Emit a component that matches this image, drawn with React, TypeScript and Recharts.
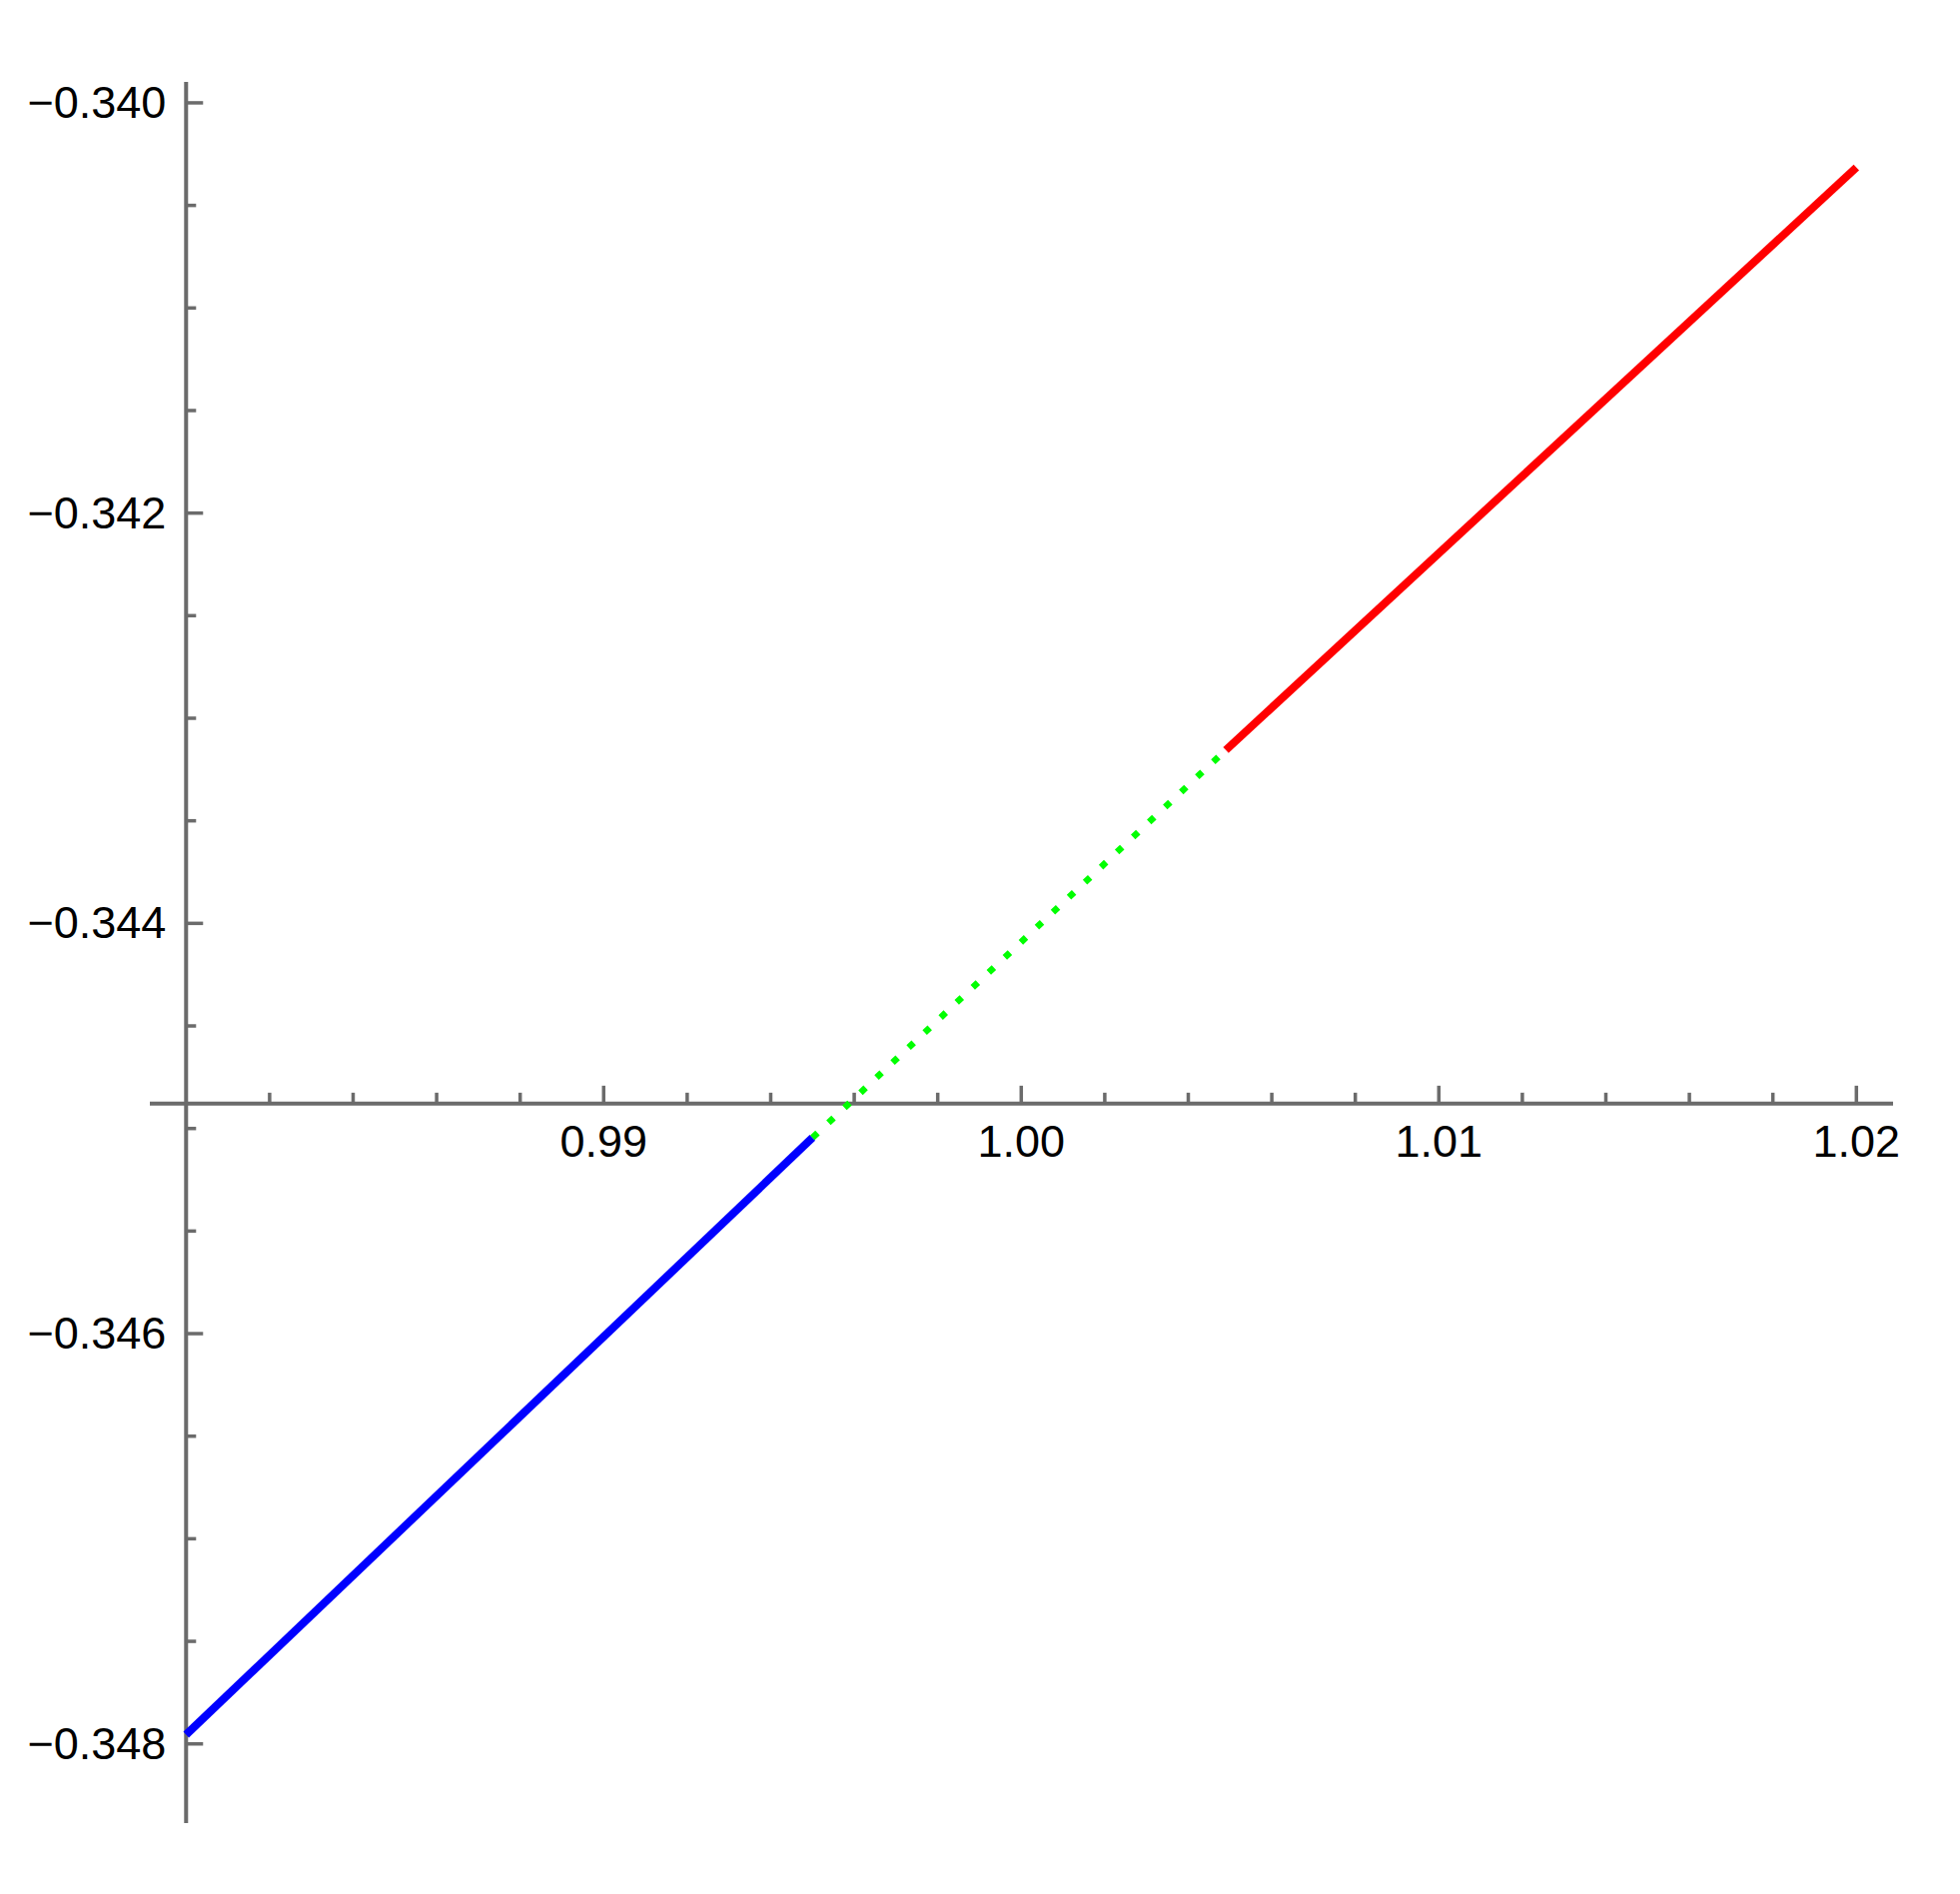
import { LineChart, Line, XAxis, YAxis, ReferenceLine, ReferenceDot } from 'recharts'

// segment endpoints
const blueX = [0.98, 0.995]
const blueY = [-0.347955, -0.345045]
const greenX = [0.995, 1.0049]
const greenY = [-0.345045, -0.343155]
const redX = [1.0049, 1.02]
const redY = [-0.343155, -0.340315]

// axes cross here
const axisOriginX = 0.98
const axisOriginY = -0.344879

const xMajorTicks = [0.99, 1.0, 1.01, 1.02]
const xMajorLabels = ['0.99', '1.00', '1.01', '1.02']
const xMinorTicks = [0.982, 0.984, 0.986, 0.988, 0.992, 0.994, 0.996, 0.998, 1.002, 1.004, 1.006, 1.008, 1.012, 1.014, 1.016, 1.018]

const yMajorTicks = [-0.34, -0.342, -0.344, -0.346, -0.348]
const yMajorLabels = ['\u22120.340', '\u22120.342', '\u22120.344', '\u22120.346', '\u22120.348']
const yMinorTicks = [
  -0.3405, -0.341, -0.3415, -0.3425, -0.343, -0.3435, -0.3445, -0.345, -0.3455,
  -0.3465, -0.347, -0.3475,
]

const xDomain = [0.979132, 1.020878]
const yDomain = [-0.348386, -0.339898]

const AXIS = '#6b6b6b'
const FONT = '"Liberation Sans", Arial, sans-serif'

const toPoints = (xs: number[], ys: number[]) => xs.map((x, i) => ({ x, y: ys[i] }))

const blue = toPoints(blueX, blueY)
const green = toPoints(greenX, greenY)
const red = toPoints(redX, redY)

function xTick(label: string | null, len: number) {
  return (p: any) => (
    <g>
      <line x1={p.cx} y1={p.cy} x2={p.cx} y2={p.cy - len} stroke={AXIS} strokeWidth={3.5} />
      {label && (
        <text x={p.cx} y={p.cy + 53} textAnchor="middle" fontSize={45} fontFamily={FONT} fill="#000">
          {label}
        </text>
      )}
    </g>
  )
}

function yTick(label: string | null, len: number) {
  return (p: any) => (
    <g>
      <line x1={p.cx} y1={p.cy} x2={p.cx + len} y2={p.cy} stroke={AXIS} strokeWidth={3.5} />
      {label && (
        <text x={p.cx - 20} y={p.cy + 15} textAnchor="end" fontSize={45} fontFamily={FONT} fill="#000">
          {label}
        </text>
      )}
    </g>
  )
}

export default function App() {
  return (
    <div style={{ width: 1962, height: 1896, background: '#fff' }}>
      <style>{'body{margin:0}'}</style>
      <LineChart width={1962} height={1896} margin={{ top: 82, right: 67, bottom: 71, left: 150 }}>
        <XAxis dataKey="x" type="number" domain={xDomain} hide allowDataOverflow />
        <YAxis dataKey="y" type="number" domain={yDomain} hide allowDataOverflow />

        <ReferenceLine y={axisOriginY} stroke={AXIS} strokeWidth={4} />
        <ReferenceLine x={axisOriginX} stroke={AXIS} strokeWidth={4} />

        {xMinorTicks.map((t) => (
          <ReferenceDot key={'xm' + t} x={t} y={axisOriginY} shape={xTick(null, 11)} />
        ))}
        {xMajorTicks.map((t, i) => (
          <ReferenceDot key={'xM' + t} x={t} y={axisOriginY} shape={xTick(xMajorLabels[i], 18)} />
        ))}
        {yMinorTicks.map((t) => (
          <ReferenceDot key={'ym' + t} x={axisOriginX} y={t} shape={yTick(null, 10)} />
        ))}
        {yMajorTicks.map((t, i) => (
          <ReferenceDot key={'yM' + t} x={axisOriginX} y={t} shape={yTick(yMajorLabels[i], 17)} />
        ))}

        <Line data={blue} dataKey="y" stroke="#0000ff" strokeWidth={8} dot={false} isAnimationActive={false} />
        <Line
          data={green}
          dataKey="y"
          stroke="#00ff00"
          strokeWidth={6.5}
          strokeDasharray="7 15"
          dot={false}
          isAnimationActive={false}
        />
        <Line data={red} dataKey="y" stroke="#ff0000" strokeWidth={8} dot={false} isAnimationActive={false} />
      </LineChart>
    </div>
  )
}
